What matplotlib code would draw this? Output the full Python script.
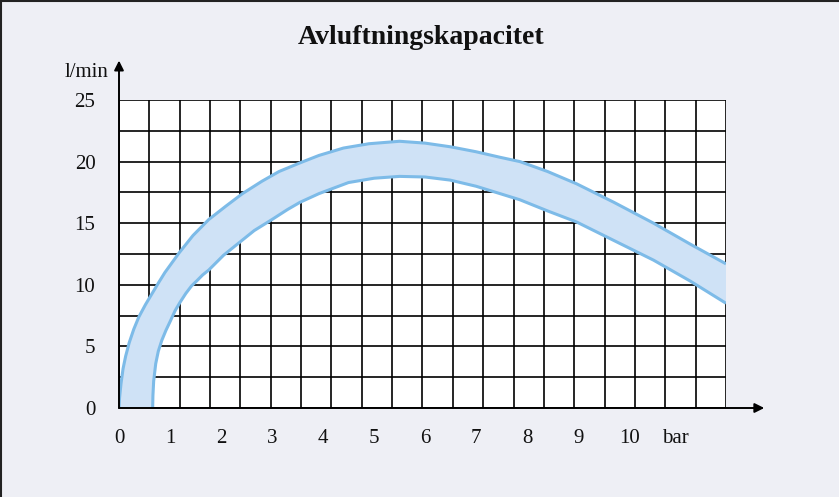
import numpy as np
import matplotlib
matplotlib.use('Agg')
import matplotlib.pyplot as plt
from matplotlib.lines import Line2D

# values (x in bar, y in l/min)
upper_x = [0.0, 0.01, 0.04, 0.08, 0.13, 0.2, 0.29, 0.39, 0.52, 0.65, 0.78, 0.9, 1.04, 1.18,
           1.45, 1.76, 2.1, 2.42, 2.8, 3.14, 3.55, 3.92, 4.4, 4.9, 5.5, 6.0, 6.5, 7.0, 7.47,
           7.86, 8.4, 8.97, 9.7, 10.48, 11.2, 11.9]
upper_y = [0.0, 0.8, 2.0, 3.2, 4.2, 5.3, 6.4, 7.4, 8.4, 9.3, 10.2, 11.0, 11.8, 12.6,
           14.0, 15.3, 16.4, 17.4, 18.4, 19.2, 19.9, 20.5, 21.1, 21.45, 21.65, 21.5, 21.2, 20.8, 20.35,
           20.0, 19.2, 18.2, 16.7, 15.0, 13.3, 11.7]
lower_x = [0.66, 0.665, 0.68, 0.72, 0.77, 0.84, 0.92, 1.0, 1.1, 1.2, 1.31, 1.42, 1.52, 1.64,
           1.76, 2.05, 2.35, 2.65, 3.0, 3.3, 3.55, 3.92, 4.5, 5.0, 5.5, 6.0, 6.49, 7.0, 7.47,
           7.86, 8.4, 8.97, 9.7, 10.48, 11.2, 11.9]
lower_y = [0.0, 1.0, 2.2, 3.6, 4.6, 5.5, 6.3, 7.0, 7.9, 8.6, 9.3, 9.9, 10.3, 10.8,
           11.2, 12.4, 13.4, 14.4, 15.3, 16.1, 16.7, 17.4, 18.3, 18.65, 18.8, 18.75, 18.5, 18.0, 17.4,
           16.9, 16.0, 15.1, 13.6, 12.0, 10.3, 8.5]

x_ticks = [0, 1, 2, 3, 4, 5, 6, 7, 8, 9, 10, 10.9]
x_labels = ['0', '1', '2', '3', '4', '5', '6', '7', '8', '9', '10', 'bar']
y_ticks = [0, 5, 10, 15, 20, 25]

x_max = 11.9
n_cols = 20
n_rows = 10
y_max = 25

bg = '#eeeff5'
band_fill = '#cfe2f6'
band_edge = '#7dbbe8'

plt.rcParams['font.family'] = ['Liberation Serif', 'DejaVu Serif']

fig = plt.figure(figsize=(8.39, 4.97), dpi=100, facecolor=bg)
ax = fig.add_axes([119/839, 1 - 408/497, 607/839, 308/497])
ax.set_facecolor('white')
ax.set_xlim(0, x_max)
ax.set_ylim(0, y_max)

# grid
for gx in np.linspace(0, x_max, n_cols + 1):
    ax.axvline(gx, color='black', lw=1.2, zorder=1)
for gy in np.linspace(0, y_max, n_rows + 1):
    ax.axhline(gy, color='black', lw=1.2, zorder=1)

# band
poly_x = upper_x + lower_x[::-1]
poly_y = upper_y + lower_y[::-1]
ax.fill(poly_x, poly_y, color=band_fill, zorder=2, lw=0)
ax.plot(upper_x, upper_y, color=band_edge, lw=2.2, zorder=3,
        solid_capstyle='butt', solid_joinstyle='round')
ax.plot(lower_x, lower_y, color=band_edge, lw=2.2, zorder=3,
        solid_capstyle='butt', solid_joinstyle='round')

for s in ax.spines.values():
    s.set_visible(False)

# axis arrows
ax.annotate('', xy=(12.65, 0), xytext=(0, 0), annotation_clip=False,
            arrowprops=dict(arrowstyle='-|>', color='black', lw=1.4,
                            mutation_scale=14, shrinkA=0, shrinkB=0), zorder=5)
ax.annotate('', xy=(0, 28.2), xytext=(0, 0), annotation_clip=False,
            arrowprops=dict(arrowstyle='-|>', color='black', lw=1.4,
                            mutation_scale=14, shrinkA=0, shrinkB=0), zorder=5)

ax.set_xticks(x_ticks, x_labels)
ax.set_yticks(y_ticks, [str(v) for v in y_ticks])
ax.tick_params(length=0, labelsize=15, colors='#111111')
ax.tick_params(axis='x', pad=15)
ax.tick_params(axis='y', pad=17)

fig.text(108/839, 1 - 72/497, 'l/min', ha='right', va='center', fontsize=15, color='#111111')
fig.text(421/839, 1 - 38/497, 'Avluftningskapacitet', ha='center', va='center',
         fontsize=20, fontweight='bold', color='#111111')

# frame at top and left edge
fig.add_artist(Line2D([0, 1], [0.998, 0.998], color='#222222', lw=1.5, transform=fig.transFigure))
fig.add_artist(Line2D([0.0015, 0.0015], [0, 1], color='#222222', lw=1.5, transform=fig.transFigure))

fig.savefig('out.png', dpi=100, facecolor=bg)
